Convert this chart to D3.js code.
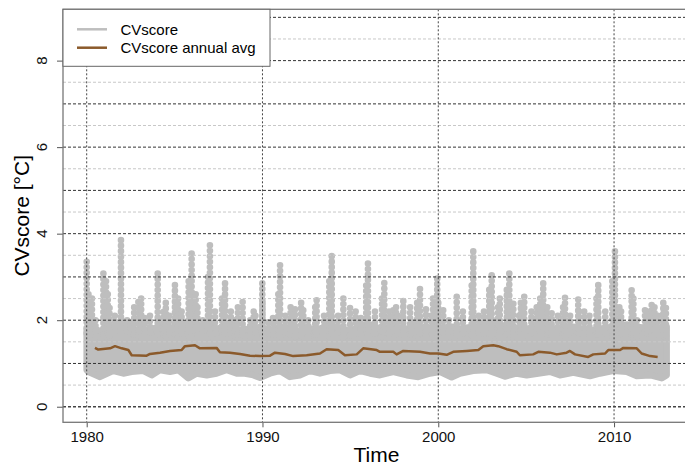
<!DOCTYPE html>
<html>
<head>
<meta charset="utf-8">
<script src="https://cdn.jsdelivr.net/npm/d3@7"></script>
<style>
  body { margin: 0; background: #fff; }
  text { font-family: "Liberation Sans", Arial, sans-serif; }
</style>
</head>
<body>
<div id="chart"></div>
<script>
// daily cloud, read per ~half year: bottom of the cloud and top of the dense core
var cloudYears = [1980.0, 1980.09, 1980.76, 1981.51, 1982.08, 1982.56, 1983.22, 1983.70, 1984.17, 1984.74,
  1985.21, 1985.78, 1986.26, 1986.83, 1987.39, 1987.96, 1988.53, 1989.00, 1989.48, 1989.86,
  1990.43, 1991.00, 1991.56, 1992.13, 1992.70, 1993.27, 1993.84, 1994.41, 1994.98, 1995.55,
  1996.12, 1996.68, 1997.44, 1998.20, 1998.86, 1999.53, 2000.10, 2000.76, 2001.23, 2001.99,
  2002.75, 2003.32, 2003.79, 2004.46, 2005.03, 2005.69, 2006.35, 2006.92, 2007.68, 2008.63,
  2009.20, 2009.95, 2010.72, 2011.29, 2012.05, 2012.71, 2012.99];
var cloudLow = [0.85, 0.81, 0.69, 0.83, 0.77, 0.81, 0.83, 0.73, 0.85, 0.81,
  0.85, 0.66, 0.77, 0.73, 0.77, 0.85, 0.77, 0.77, 0.73, 0.67,
  0.77, 0.83, 0.69, 0.73, 0.83, 0.77, 0.83, 0.85, 0.73, 0.83,
  0.77, 0.73, 0.81, 0.73, 0.69, 0.77, 0.81, 0.68, 0.77, 0.83,
  0.85, 0.77, 0.70, 0.77, 0.73, 0.77, 0.81, 0.73, 0.79, 0.71,
  0.77, 0.83, 0.81, 0.71, 0.73, 0.66, 0.73];
var cloudHigh = [1.80, 1.85, 1.75, 1.85, 1.90, 1.75, 1.75, 1.80, 1.85, 1.80,
  1.85, 1.95, 1.85, 1.90, 1.80, 1.85, 1.75, 1.80, 1.75, 1.85,
  1.75, 1.85, 1.80, 1.75, 1.80, 1.80, 1.90, 1.80, 1.75, 1.85,
  1.90, 1.80, 1.85, 1.80, 1.85, 1.80, 1.80, 1.85, 1.80, 1.85,
  1.85, 1.95, 1.85, 1.80, 1.80, 1.85, 1.80, 1.80, 1.85, 1.75,
  1.80, 1.85, 1.90, 1.85, 1.80, 1.80, 1.85];

// columns of high daily values: year and top value
var spikeYears = [1980.0, 1980.1, 1980.3, 1980.5, 1980.95, 1981.1, 1981.2, 1981.3, 1981.6, 1981.95,
  1982.3, 1982.5, 1982.7, 1982.94, 1983.1, 1983.3, 1983.6, 1984.04, 1984.36, 1984.5,
  1984.7, 1985.02, 1985.2, 1985.4, 1985.8, 1985.97, 1986.2, 1986.3, 1986.6, 1986.9,
  1987.01, 1987.3, 1987.7, 1987.87, 1988.2, 1988.44, 1988.6, 1988.87, 1989.3, 1989.5,
  1989.6, 1989.99, 1990.0, 1990.33, 1990.6, 1990.9, 1991.0, 1991.3, 1991.6, 1991.85,
  1992.2, 1992.32, 1992.6, 1993.0, 1993.08, 1993.5, 1993.8, 1993.94, 1994.3, 1994.6,
  1994.98, 1995.3, 1995.6, 1995.9, 1996.0, 1996.4, 1996.8, 1996.93, 1997.2, 1997.44,
  1997.6, 1997.7, 1998.01, 1998.4, 1998.49, 1998.8, 1998.96, 1999.3, 1999.6, 1999.7,
  1999.94, 2000.0, 2000.28, 2000.6, 2001.05, 2001.4, 2001.9, 2001.99, 2002.3, 2002.6,
  2002.9, 2003.04, 2003.4, 2003.5, 2003.9, 2004.04, 2004.27, 2004.6, 2004.7, 2004.89,
  2005.3, 2005.6, 2005.8, 2005.97, 2006.2, 2006.45, 2006.8, 2007.1, 2007.21, 2007.5,
  2007.96, 2008.0, 2008.3, 2008.6, 2009.0, 2009.10, 2009.5, 2009.9, 2010.05, 2010.3,
  2010.4, 2011.0, 2011.1, 2011.3, 2011.76, 2011.9, 2012.14, 2012.3, 2012.5, 2012.8,
  2012.95];
var spikeTops = [3.35, 2.6, 2.5, 2.0, 3.08, 2.9, 2.6, 2.28, 2.1, 3.85,
  2.0, 1.95, 2.3, 2.42, 2.5, 2.05, 2.1, 3.08, 2.19, 2.4,
  2.1, 2.81, 2.5, 2.2, 2.9, 3.54, 2.6, 2.3, 2.0, 3.0,
  3.73, 2.2, 2.5, 2.85, 2.2, 2.0, 2.3, 2.42, 2.0, 2.2,
  2.1, 2.85, 2.4, 1.95, 2.05, 2.6, 3.27, 2.1, 2.3, 2.25,
  2.4, 2.23, 2.0, 2.3, 2.46, 2.1, 2.9, 3.48, 2.1, 2.5,
  2.28, 2.2, 2.05, 2.8, 3.31, 2.2, 2.5, 2.86, 2.2, 2.23,
  2.3, 2.1, 2.44, 2.3, 1.95, 2.4, 2.72, 2.25, 2.1, 2.5,
  2.96, 2.4, 2.23, 2.0, 2.54, 2.2, 2.8, 3.59, 2.1, 2.2,
  2.7, 3.04, 2.3, 2.5, 2.7, 3.08, 2.38, 2.1, 2.4, 2.54,
  2.2, 2.3, 2.5, 2.85, 2.3, 2.16, 2.1, 2.3, 2.52, 2.1,
  2.48, 2.2, 2.2, 2.1, 2.5, 2.81, 2.2, 2.9, 3.59, 2.3,
  2.2, 2.69, 2.5, 2.0, 2.23, 2.2, 2.35, 2.3, 2.1, 2.4,
  2.28];

// running annual average
var avgYears = [1980.47, 1980.66, 1981.33, 1981.61, 1981.99, 1982.37, 1982.56, 1983.41, 1983.60, 1984.17,
  1984.74, 1985.40, 1985.59, 1986.16, 1986.44, 1987.39, 1987.58, 1988.15, 1988.72, 1989.29,
  1989.86, 1990.43, 1990.71, 1991.28, 1991.75, 1992.51, 1993.27, 1993.65, 1994.31, 1994.69,
  1995.36, 1995.73, 1996.50, 1996.68, 1997.44, 1997.63, 1998.01, 1998.96, 1999.53, 2000.00,
  2000.48, 2000.85, 2001.62, 2002.28, 2002.56, 2003.13, 2003.41, 2003.89, 2004.46, 2004.64,
  2005.40, 2005.69, 2006.35, 2006.74, 2007.30, 2007.49, 2007.78, 2008.53, 2008.82, 2009.49,
  2009.67, 2010.34, 2010.53, 2011.29, 2011.57, 2012.05, 2012.48];
var avgValues = [1.36, 1.32, 1.35, 1.40, 1.35, 1.31, 1.19, 1.18, 1.22, 1.25,
  1.29, 1.31, 1.40, 1.42, 1.35, 1.36, 1.26, 1.25, 1.22, 1.18,
  1.17, 1.18, 1.25, 1.22, 1.17, 1.19, 1.23, 1.33, 1.31, 1.19,
  1.21, 1.35, 1.31, 1.27, 1.27, 1.21, 1.29, 1.27, 1.23, 1.23,
  1.20, 1.27, 1.29, 1.31, 1.40, 1.42, 1.40, 1.33, 1.27, 1.19,
  1.21, 1.27, 1.25, 1.21, 1.25, 1.29, 1.21, 1.15, 1.21, 1.23,
  1.31, 1.31, 1.36, 1.35, 1.23, 1.17, 1.15];

var xTicks = [1980, 1990, 2000, 2010];
var yTicks = [0, 2, 4, 6, 8];
var yGridMajor = [0, 1, 2, 3, 4, 5, 6, 7, 8, 9];
var yGridMinor = [0.5, 1.5, 2.5, 3.5, 4.5, 5.5, 6.5, 7.5, 8.5];

var W = 685, H = 466;
var box = {left: 63, right: 690, top: 9.3, bottom: 422.3};
var grey = "#bebebe", brown = "#8b5a2b", r = 3.3;

var svg = d3.select("#chart").append("svg")
  .attr("width", W)
  .attr("height", H);

var x = d3.scaleLinear().domain([1978.652, 2014.32]).range([box.left, box.right]);
var y = d3.scaleLinear().domain([-0.36, 9.186]).range([box.bottom, box.top]);

svg.append("defs").append("clipPath").attr("id", "plotclip")
  .append("rect")
  .attr("x", box.left).attr("y", box.top)
  .attr("width", box.right - box.left).attr("height", box.bottom - box.top);

var plot = svg.append("g").attr("clip-path", "url(#plotclip)");

// dense part of the daily points
var cloud = cloudYears.map(function(d, i) { return {t: d, lo: cloudLow[i], hi: cloudHigh[i]}; });
plot.append("path")
  .datum(cloud)
  .attr("d", d3.area().x(function(d) { return x(d.t); })
    .y0(function(d) { return y(d.lo); })
    .y1(function(d) { return y(d.hi); }))
  .attr("fill", grey)
  .attr("stroke", grey)
  .attr("stroke-width", r * 2)
  .attr("stroke-linejoin", "round");

// columns of high points, drawn top-down as a chain of round dots
plot.selectAll(".spike")
  .data(spikeYears)
  .enter().append("line")
  .attr("class", "spike")
  .attr("x1", function(d) { return x(d); })
  .attr("x2", function(d) { return x(d); })
  .attr("y1", function(d, i) { return y(spikeTops[i]); })
  .attr("y2", y(1.6))
  .attr("stroke", grey)
  .attr("stroke-width", r * 2)
  .attr("stroke-linecap", "round")
  .attr("stroke-dasharray", "0,5.5");

// grid
plot.selectAll(".gminor")
  .data(yGridMinor)
  .enter().append("line")
  .attr("x1", box.left).attr("x2", box.right)
  .attr("y1", function(d) { return y(d); })
  .attr("y2", function(d) { return y(d); })
  .attr("stroke", "#c8c8c8")
  .attr("stroke-dasharray", "3,2");

plot.selectAll(".gmajor")
  .data(yGridMajor)
  .enter().append("line")
  .attr("x1", box.left).attr("x2", box.right)
  .attr("y1", function(d) { return y(d); })
  .attr("y2", function(d) { return y(d); })
  .attr("stroke", function(d) { return d === 0 ? "#444" : "#333"; })
  .attr("stroke-width", function(d) { return d === 0 ? 1.6 : 1; })
  .attr("stroke-dasharray", "3,2");

plot.selectAll(".gx")
  .data(xTicks)
  .enter().append("line")
  .attr("x1", function(d) { return x(d); })
  .attr("x2", function(d) { return x(d); })
  .attr("y1", box.top).attr("y2", box.bottom)
  .attr("stroke", "#444")
  .attr("stroke-dasharray", "2,2");

// annual average
plot.append("path")
  .datum(avgYears.map(function(d, i) { return [d, avgValues[i]]; }))
  .attr("d", d3.line().x(function(d) { return x(d[0]); }).y(function(d) { return y(d[1]); }))
  .attr("fill", "none")
  .attr("stroke", brown)
  .attr("stroke-width", 2.5)
  .attr("stroke-linejoin", "round");

// axes
var xAxis = svg.append("g")
  .attr("transform", "translate(0," + box.bottom + ")")
  .call(d3.axisBottom(x).tickValues(xTicks).tickFormat(d3.format("d")).tickSize(5).tickPadding(4));
xAxis.select(".domain").remove();
xAxis.selectAll("line").attr("stroke", "#555");
xAxis.selectAll("text").attr("fill", "#111").style("font-size", "15px")
  .style("font-family", "'Liberation Sans', Arial, sans-serif");

var yAxis = svg.append("g")
  .attr("transform", "translate(" + box.left + ",0)")
  .call(d3.axisLeft(y).tickValues(yTicks).tickSize(6).tickFormat(""));
yAxis.select(".domain").remove();
yAxis.selectAll("line").attr("stroke", "#555");

// rotated y tick labels
svg.selectAll(".ylab")
  .data(yTicks)
  .enter().append("text")
  .attr("class", "ylab")
  .attr("transform", function(d) { return "translate(47," + y(d) + ") rotate(-90)"; })
  .attr("text-anchor", "middle")
  .attr("fill", "#111")
  .style("font-size", "15px")
  .text(function(d) { return d; });

// box
svg.append("rect")
  .attr("x", box.left).attr("y", box.top)
  .attr("width", box.right - box.left).attr("height", box.bottom - box.top)
  .attr("fill", "none")
  .attr("stroke", "#777")
  .attr("stroke-width", 1.3);

// titles
svg.append("text")
  .attr("x", (box.left + box.right) / 2)
  .attr("y", 462)
  .attr("text-anchor", "middle")
  .style("font-size", "21px")
  .text("Time");
svg.append("text")
  .attr("transform", "translate(29," + ((box.top + box.bottom) / 2) + ") rotate(-90)")
  .attr("text-anchor", "middle")
  .style("font-size", "21px")
  .text("CVscore [°C]");

// legend
var legend = svg.append("g");
legend.append("rect")
  .attr("x", box.left).attr("y", box.top)
  .attr("width", 207).attr("height", 57)
  .attr("fill", "#fff")
  .attr("stroke", "#666")
  .attr("stroke-width", 1);
var legendItems = [["CVscore", grey], ["CVscore annual avg", brown]];
legendItems.forEach(function(d, i) {
  var ly = 29.3 + i * 18.4;
  legend.append("line")
    .attr("x1", 77).attr("x2", 107)
    .attr("y1", ly).attr("y2", ly)
    .attr("stroke", d[1]).attr("stroke-width", 2.5);
  legend.append("text")
    .attr("x", 120.5).attr("y", ly + 5.5)
    .style("font-size", "15px")
    .text(d[0]);
});
</script>
</body>
</html>
